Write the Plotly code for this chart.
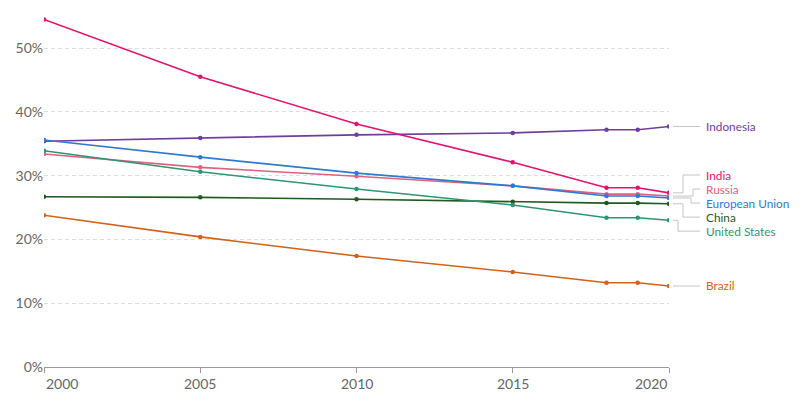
import plotly.graph_objects as go

years = [2000, 2005, 2010, 2015, 2018, 2019, 2020]

countries = ["Indonesia", "India", "Russia", "European Union", "China", "United States", "Brazil"]
indonesia = [35.4, 35.9, 36.4, 36.7, 37.2, 37.2, 37.7]
india = [54.5, 45.5, 38.1, 32.1, 28.1, 28.1, 27.3]
russia = [33.4, 31.3, 29.9, 28.4, 27.1, 27.1, 26.8]
eu = [35.6, 32.9, 30.4, 28.4, 26.8, 26.8, 26.5]
china = [26.7, 26.6, 26.3, 25.9, 25.7, 25.7, 25.6]
usa = [33.9, 30.6, 27.9, 25.4, 23.4, 23.4, 23.0]
brazil = [23.8, 20.4, 17.4, 14.9, 13.2, 13.2, 12.7]
series = [indonesia, india, russia, eu, china, usa, brazil]

colors = ["#6f3d9c", "#e0136f", "#e0607e", "#2f7ad0", "#1f5a1f", "#2e9573", "#d0621c"]

y_ticks = [0, 10, 20, 30, 40, 50]
y_tick_text = ["0%", "10%", "20%", "30%", "40%", "50%"]
x_ticks = [2000, 2005, 2010, 2015, 2020]
x_tick_text = ["2000", "2005", "2010", "2015", "2020"]

# label layout (positions in value units) and connector elbow offsets (px)
label_y = [37.7, 30.1, 27.9, 25.7, 23.5, 21.3, 12.7]
elbow_px = [None, 14, 24, 22, 14, 9, None]

# the page body adds an 8px offset, so the figure is drawn 8px smaller
OFF = 8
W, H = 800 - OFF, 396 - OFF
ml, mt = 44 - OFF, 13 - OFF
plot_w = 669 - 44
plot_h = 367 - 13
mr = W - ml - plot_w
mb = H - mt - plot_h
ymin, ymax = 0, 55.5

def px_to_paper_x(px):
    # px measured in page coordinates
    return (px - OFF - ml) / plot_w

def val_to_paper_y(v):
    return (v - ymin) / (ymax - ymin)

fig = go.Figure()
for name, vals, col in zip(countries, series, colors):
    fig.add_trace(go.Scatter(
        x=years, y=vals, name=name, mode="lines+markers",
        line=dict(color=col, width=1.6),
        marker=dict(color=col, size=4.5),
        showlegend=False, hoverinfo="x+y+name",
    ))

shapes = []
x0 = 669 + 4
x_end = 669 + 31
for vals, ly, el in zip(series, label_y, elbow_px):
    yv = vals[-1]
    if el is None:
        path = "M{},{} L{},{}".format(px_to_paper_x(x0), val_to_paper_y(yv),
                                      px_to_paper_x(x_end), val_to_paper_y(ly))
    else:
        xe = 669 + el
        path = "M{},{} L{},{} L{},{} L{},{}".format(
            px_to_paper_x(x0), val_to_paper_y(yv),
            px_to_paper_x(xe), val_to_paper_y(yv),
            px_to_paper_x(xe), val_to_paper_y(ly),
            px_to_paper_x(x_end), val_to_paper_y(ly))
    shapes.append(dict(type="path", xref="paper", yref="paper", path=path,
                       line=dict(color="#c4c4c4", width=1)))

annotations = []
for name, ly, col in zip(countries, label_y, colors):
    annotations.append(dict(
        x=px_to_paper_x(704), xref="paper", y=ly, yref="y",
        text=name, showarrow=False, xanchor="left", yanchor="middle",
        font=dict(family="Lato", size=11.8, color=col),
    ))

# x tick labels: first left-aligned, last right-aligned, others centred
for i, (xv, xt) in enumerate(zip(x_ticks, x_tick_text)):
    anchor = "left" if i == 0 else ("right" if i == len(x_ticks) - 1 else "center")
    annotations.append(dict(
        x=xv, xref="x", y=0, yref="paper", yshift=-16,
        text=xt, showarrow=False, xanchor=anchor, yanchor="middle",
        font=dict(family="Lato", size=14, color="#666666"),
    ))

fig.update_layout(
    width=W, height=H,
    margin=dict(l=ml, r=mr, t=mt, b=mb),
    plot_bgcolor="white", paper_bgcolor="white",
    font=dict(family="Lato", size=14, color="#666666"),
    shapes=shapes, annotations=annotations,
    xaxis=dict(
        range=[2000, 2020], tickvals=x_ticks, showticklabels=False,
        showgrid=False, zeroline=False, automargin=False,
        showline=True, linecolor="#999999", linewidth=1,
        ticks="outside", ticklen=5, tickcolor="#999999",
    ),
    yaxis=dict(
        range=[ymin, ymax], tickvals=y_ticks, ticktext=y_tick_text,
        showgrid=True, gridcolor="#dddddd", griddash="4px,3px", gridwidth=1,
        zeroline=False, showline=False, ticks="", automargin=False,
        tickfont=dict(family="Lato", size=14, color="#666666"),
    ),
)

fig.write_html("out.html")
